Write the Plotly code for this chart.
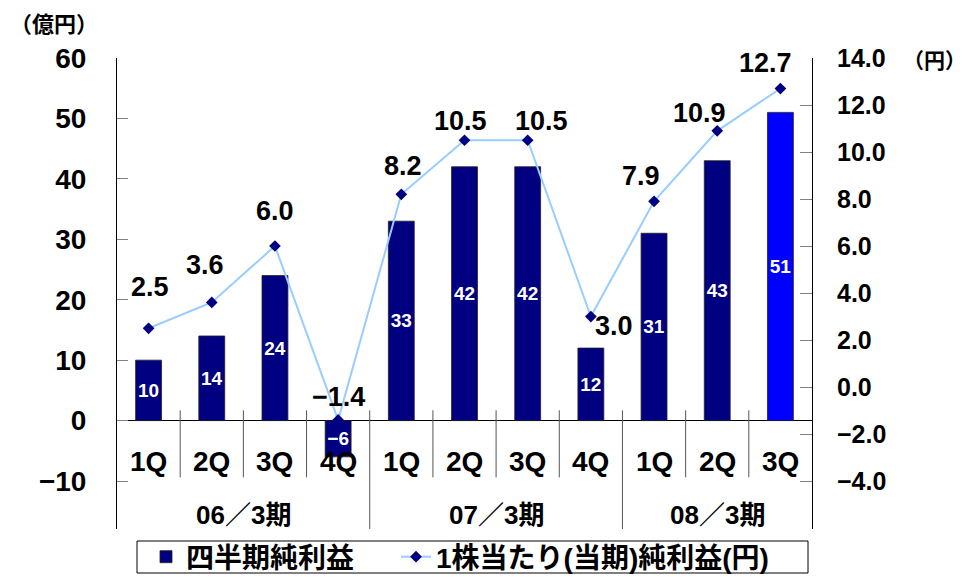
import plotly.graph_objects as go

# ---- data ----
quarters = ["1Q", "2Q", "3Q", "4Q", "1Q", "2Q", "3Q", "4Q", "1Q", "2Q", "3Q"]
periods = ["06／3期", "07／3期", "08／3期"]
period_sizes = [4, 4, 3]
net_income = [10, 14, 24, -6, 33, 42, 42, 12, 31, 43, 51]          # 億円
eps = [2.5, 3.6, 6.0, -1.4, 8.2, 10.5, 10.5, 3.0, 7.9, 10.9, 12.7]  # 円
left_ticks = [-10, 0, 10, 20, 30, 40, 50, 60]
right_ticks = [-4, -2, 0, 2, 4, 6, 8, 10, 12, 14]

bar_name = "四半期純利益"
line_name = "1株当たり(当期)純利益(円)"

# ---- styling helpers ----
NUM_FONT = "Liberation Sans, Arial, Noto Sans CJK JP, sans-serif"
JP_FONT = "Liberation Sans, Arial, Noto Sans CJK JP, sans-serif"
NAVY = "#000080"
BLUE = "#0000FF"


def signed(v, fmt):
    return format(v, fmt).replace("-", "\u2212")


# pixel offsets of each EPS label relative to its marker (dx, dy up)
eps_label_offsets = [(1, 41), (-7, 37), (0, 35), (0, 23), (2, 28), (-4, 19),
                     (14, 19), (23, -9), (-13, 25), (-18, 18), (-15, 26)]

x_idx = list(range(len(quarters)))
bar_colors = [NAVY] * (len(net_income) - 1) + [BLUE]

fig = go.Figure()

fig.add_trace(go.Bar(
    x=x_idx, y=net_income, name=bar_name,
    marker=dict(color=bar_colors, line=dict(color="#222222", width=0.8)),
    text=[signed(v, "d") for v in net_income],
    textposition="inside", insidetextanchor="middle", textangle=0,
    textfont=dict(family=NUM_FONT, size=19, color="white", weight="bold"),
    constraintext="none", cliponaxis=False,
    showlegend=True, legend="legend",
))

fig.add_trace(go.Scatter(
    x=x_idx, y=eps, name=line_name, yaxis="y2",
    mode="lines+markers",
    line=dict(color="#99CCFF", width=2),
    marker=dict(symbol="diamond", size=9, color=NAVY),
    cliponaxis=False, legend="legend2",
))

annotations = []

# EPS value labels
for i, (v, (dx, dy)) in enumerate(zip(eps, eps_label_offsets)):
    annotations.append(dict(
        x=i, y=v, xref="x", yref="y2", text=signed(v, ".1f"),
        showarrow=False, xanchor="center", yanchor="middle",
        xshift=dx, yshift=dy,
        font=dict(family=NUM_FONT, size=27, color="black", weight="bold"),
    ))

# quarter labels just under the zero line
for i, q in enumerate(quarters):
    annotations.append(dict(
        x=i, y=-6.8, xref="x", yref="y", text=q, showarrow=False,
        xanchor="center", yanchor="middle",
        font=dict(family=NUM_FONT, size=28, color="black", weight="bold"),
    ))

# fiscal-period labels and dividers
shapes = []
start = 0
boundaries = []
for p, n in zip(periods, period_sizes):
    center = start + (n - 1) / 2
    annotations.append(dict(
        x=center, y=-15.65, xref="x", yref="y", text=p, showarrow=False,
        xanchor="center", yanchor="middle",
        font=dict(family=JP_FONT, size=26, color="black", weight="bold"),
    ))
    start += n
    boundaries.append(start - 0.5)

Y_BOTTOM = -17.94
for k in range(len(quarters) - 1):
    xb = k + 0.5
    y_end = Y_BOTTOM if xb in boundaries else -9.4
    shapes.append(dict(
        type="line", xref="x", yref="y", x0=xb, x1=xb, y0=1.7, y1=y_end,
        line=dict(color="#555555", width=1),
    ))

# unit captions (pixel positions converted to paper coordinates below)
W, H = 968, 577
ML, MR, MT, MB = 117, 156, 58, 48
PW, PH = W - ML - MR, H - MT - MB


def px_x(px):
    return (px - ML) / PW


def px_y(py):
    return (H - MB - py) / PH


captions = [
    dict(px=8, py=24, text="（億円）", anchor="left", size=22),
    dict(px=968, py=60, text="（円）", anchor="right", size=21),
]
for c in captions:
    annotations.append(dict(
        x=px_x(c["px"]), y=px_y(c["py"]),
        xref="paper", yref="paper", text=c["text"], showarrow=False,
        xanchor=c["anchor"], yanchor="middle",
        font=dict(family=JP_FONT, size=c["size"], color="black", weight="bold"),
    ))

# legend frame
shapes.append(dict(
    type="rect", xref="paper", yref="paper",
    x0=px_x(137), x1=px_x(808), y0=px_y(573), y1=px_y(541),
    line=dict(color="black", width=1), fillcolor="rgba(0,0,0,0)",
))

legend_style = dict(
    orientation="h", xanchor="left", y=px_y(557), yanchor="middle",
    borderwidth=0, bgcolor="rgba(0,0,0,0)",
    font=dict(family=JP_FONT, size=28, weight="bold"),
)

fig.update_layout(
    width=W, height=H, autosize=False,
    margin=dict(l=ML, r=MR, t=MT, b=MB, pad=0, autoexpand=False),
    paper_bgcolor="white", plot_bgcolor="white",
    bargap=0.59,
    font=dict(family=NUM_FONT, color="black"),
    xaxis=dict(range=[-0.5, len(quarters) - 0.5], showticklabels=False,
               showgrid=False, zeroline=False, showline=False, ticks=""),
    yaxis=dict(range=[Y_BOTTOM, 60], tickvals=left_ticks,
               ticks="inside", ticklen=11, tickcolor="#808080",
               showline=True, linecolor="black", linewidth=1,
               showgrid=False, zeroline=True, zerolinecolor="black",
               zerolinewidth=1, ticklabelstandoff=24,
               tickfont=dict(family=NUM_FONT, size=28, weight="bold")),
    yaxis2=dict(range=[-6.04, 14], tickvals=right_ticks, tickformat=".1f",
                overlaying="y", side="right",
                ticks="inside", ticklen=12, tickcolor="#808080",
                showline=True, linecolor="black", linewidth=1,
                showgrid=False, zeroline=False, ticklabelstandoff=19,
                tickfont=dict(family=NUM_FONT, size=25, weight="bold")),
    legend=dict(x=px_x(146), **legend_style),
    legend2=dict(x=px_x(396), **legend_style),
    annotations=annotations,
    shapes=shapes,
)

fig.write_html("out.html")
